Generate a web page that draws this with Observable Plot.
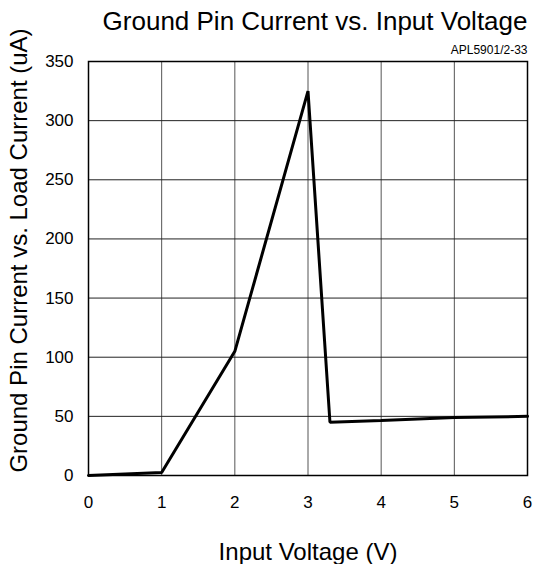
<!DOCTYPE html>
<html>
<head>
<meta charset="utf-8">
<script src="https://cdn.jsdelivr.net/npm/d3@7"></script>
<script src="https://cdn.jsdelivr.net/npm/@observablehq/plot@0.6"></script>
<style>
  html, body { margin: 0; padding: 0; background: #fff; }
</style>
</head>
<body>
<div id="chart"></div>
<script>
// Data
const voltage = [0, 1, 2, 3, 3.3, 4, 5, 6];
const current = [0, 2.5, 105, 325, 45, 46.5, 49, 50];
const xTicks = [0, 1, 2, 3, 4, 5, 6];
const yTicks = [0, 50, 100, 150, 200, 250, 300, 350];
const titleText = "Ground Pin Current vs. Input Voltage";
const noteText = "APL5901/2-33";
const xLabel = "Input Voltage (V)";
const yLabel = "Ground Pin Current vs. Load Current (uA)";

const data = voltage.map((v, i) => ({v, c: current[i]}));
const font = "'Liberation Sans', Arial, sans-serif";

const chart = Plot.plot({
  width: 538,
  height: 564,
  marginLeft: 88,
  marginRight: 11,
  marginTop: 61,
  marginBottom: 89,
  style: {fontFamily: font, fontSize: "17px", color: "#000", background: "#fff"},
  x: {domain: [0, 6], ticks: xTicks, tickSize: 0, tickPadding: 20, label: null, tickFormat: d => String(d)},
  y: {domain: [0, 350], ticks: yTicks, tickSize: 0, tickPadding: 15, label: null, tickFormat: d => String(d)},
  marks: [
    Plot.ruleX(xTicks, {x: d => d, stroke: "#555", strokeWidth: 1}),
    Plot.ruleY(yTicks, {y: d => d, stroke: "#222", strokeWidth: 1}),
    Plot.frame({stroke: "#000", strokeWidth: 1.5}),
    Plot.line(data, {x: "v", y: "c", stroke: "#000", strokeWidth: 3, strokeLinejoin: "miter"}),
    Plot.text([titleText], {text: d => d, frameAnchor: "top-right", textAnchor: "end", lineAnchor: "bottom", dy: -32, fontSize: 26}),
    Plot.text([noteText], {text: d => d, frameAnchor: "top-right", textAnchor: "end", lineAnchor: "bottom", dy: -8, fontSize: 12}),
    Plot.text([xLabel], {text: d => d, frameAnchor: "bottom", textAnchor: "middle", lineAnchor: "bottom", dy: 84, fontSize: 24}),
    Plot.text([yLabel], {text: d => d, frameAnchor: "left", textAnchor: "middle", lineAnchor: "middle", rotate: -90, dx: -69, dy: -18, fontSize: 24})
  ]
});
document.getElementById("chart").appendChild(chart);
</script>
</body>
</html>
